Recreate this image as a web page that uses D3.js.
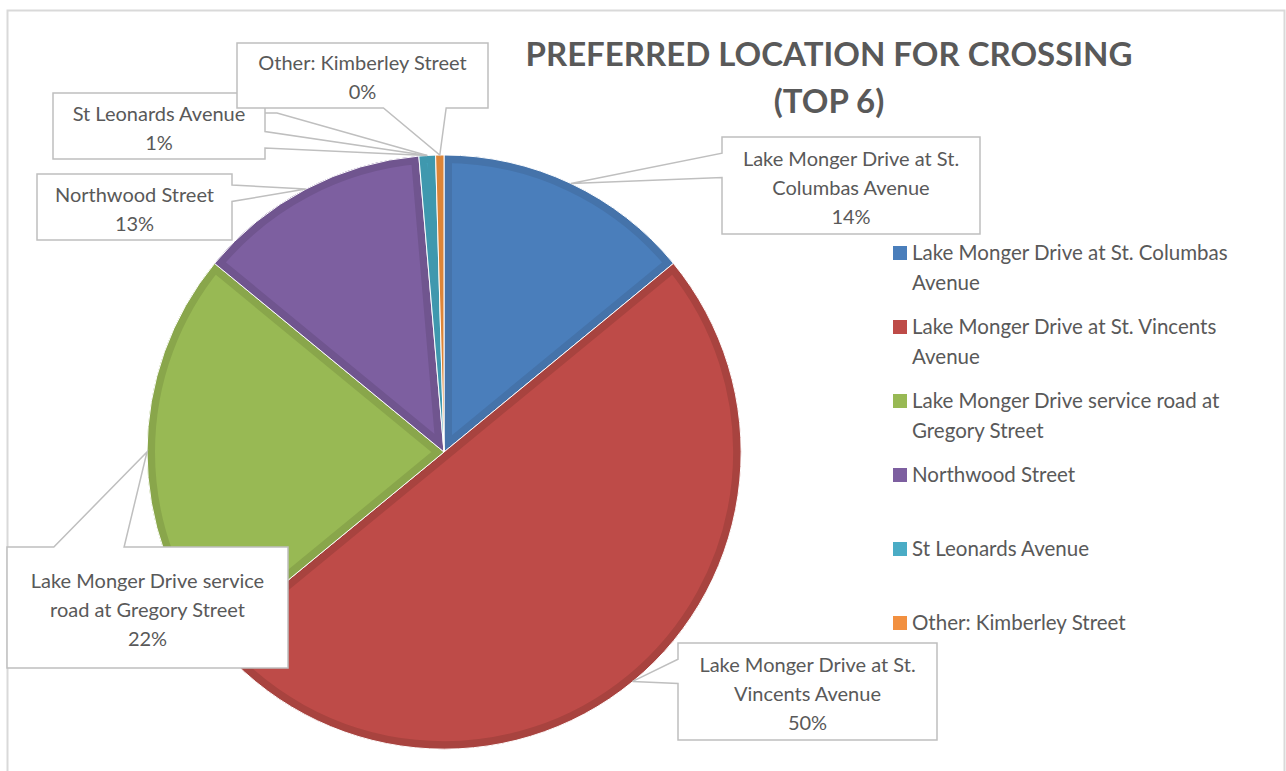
<!DOCTYPE html>
<html>
<head>
<meta charset="utf-8">
<script src="https://cdn.jsdelivr.net/npm/d3@7"></script>
<style>
  body { margin: 0; background: #fff; }
  text { font-family: Lato, "Open Sans", sans-serif; fill: #595959; }
</style>
</head>
<body>
<div id="chart"></div>
<script>
const width = 1286;
const height = 771;

// data
const categories = [
  "Lake Monger Drive at St. Columbas Avenue",
  "Lake Monger Drive at St. Vincents Avenue",
  "Lake Monger Drive service road at Gregory Street",
  "Northwood Street",
  "St Leonards Avenue",
  "Other: Kimberley Street",
];
const values = [14.05, 50.0, 21.9, 12.7, 0.9, 0.45];
const fillColors = ["#4a7ebb", "#be4b48", "#98b954", "#7d5fa0", "#4aacc5", "#f29040"];
const edgeColors = ["#4573aa", "#a8433f", "#89a64b", "#70558f", "#3f98ae", "#dc8538"];

// label text as wrapped in the picture
const labelLines = [
  ["Lake Monger Drive at St.", "Columbas Avenue"],
  ["Lake Monger Drive at St.", "Vincents Avenue"],
  ["Lake Monger Drive service", "road at Gregory Street"],
  ["Northwood Street"],
  ["St Leonards Avenue"],
  ["Other: Kimberley Street"],
];
const legendLines = [
  ["Lake Monger Drive at St. Columbas", "Avenue"],
  ["Lake Monger Drive at St. Vincents", "Avenue"],
  ["Lake Monger Drive service road at", "Gregory Street"],
  ["Northwood Street"],
  ["St Leonards Avenue"],
  ["Other: Kimberley Street"],
];
const titleLines = ["PREFERRED LOCATION FOR CROSSING", "(TOP 6)"];

// label box layout
const labelBoxes = [
  { x: 722, y: 137, w: 258, h: 97 },
  { x: 678, y: 643, w: 259, h: 97 },
  { x: 7, y: 547, w: 281, h: 121 },
  { x: 37, y: 174, w: 195, h: 66 },
  { x: 53, y: 93, w: 212, h: 66 },
  { x: 237, y: 43, w: 251, h: 65 },
];

const cx = 444, cy = 452, r = 297;

const svg = d3.select("#chart").append("svg")
  .attr("width", width)
  .attr("height", height);

svg.append("rect")
  .attr("x", 7.5).attr("y", 10.5)
  .attr("width", 1277).attr("height", 800)
  .attr("fill", "#fff")
  .attr("stroke", "#d9d9d9")
  .attr("stroke-width", 2);

const data = categories.map((c, i) => ({ name: c, value: values[i], i }));
const total = d3.sum(values);
const pct = d3.format(".0%");

const pie = d3.pie().sort(null).value((d) => d.value);
const arc = d3.arc().innerRadius(0).outerRadius(r);
const arcs = pie(data);

const pieG = svg.append("g").attr("transform", `translate(${cx},${cy})`);

const defs = svg.append("defs");
arcs.forEach((a, i) => {
  defs.append("clipPath").attr("id", "clip" + i)
    .append("path").attr("d", arc(a));
});

const slice = pieG.selectAll("g.slice").data(arcs).enter().append("g").attr("class", "slice");
slice.append("path")
  .attr("d", arc)
  .attr("fill", (d) => fillColors[d.data.i]);
// darker inner edge
slice.append("path")
  .attr("d", arc)
  .attr("fill", "none")
  .attr("stroke", (d) => edgeColors[d.data.i])
  .attr("stroke-width", 16)
  .attr("stroke-linejoin", "miter")
  .attr("clip-path", (d) => `url(#clip${d.data.i})`);
slice.append("path")
  .attr("d", arc)
  .attr("fill", "none")
  .attr("stroke", "#fff")
  .attr("stroke-width", 1);

// callout labels
function calloutPath(b, tip) {
  const bx = b.x + b.w / 2, by = b.y + b.h / 2;
  const dx = (tip[0] - bx) / b.w, dy = (tip[1] - by) / b.h;
  const x0 = b.x, x1 = b.x + b.w, y0 = b.y, y1 = b.y + b.h;
  let pts;
  if (Math.abs(dx) > Math.abs(dy)) {
    const f = dy > 0 ? [7, 10] : [2, 5];
    const ya = y0 + (b.h * f[0]) / 12, yb = y0 + (b.h * f[1]) / 12;
    if (dx < 0) pts = [[x0, y0], [x1, y0], [x1, y1], [x0, y1], [x0, yb], tip, [x0, ya]];
    else pts = [[x0, y0], [x1, y0], [x1, ya], tip, [x1, yb], [x1, y1], [x0, y1]];
  } else {
    const f = dx > 0 ? [7, 10] : [2, 5];
    const xa = x0 + (b.w * f[0]) / 12, xb = x0 + (b.w * f[1]) / 12;
    if (dy < 0) pts = [[x0, y0], [xa, y0], tip, [xb, y0], [x1, y0], [x1, y1], [x0, y1]];
    else pts = [[x0, y0], [x1, y0], [x1, y1], [xb, y1], tip, [xa, y1], [x0, y1]];
  }
  return "M" + pts.join("L") + "Z";
}

const lineH = 29;
const labelG = svg.append("g");
arcs.forEach((a, i) => {
  const b = labelBoxes[i];
  const mid = (a.startAngle + a.endAngle) / 2;
  const tip = [cx + r * Math.sin(mid), cy - r * Math.cos(mid)];
  const g = labelG.append("g");
  if (i === 4) {
    // short leader line behind the box
    g.append("path")
      .attr("d", `M${b.x + b.w},${b.y + 20}H${b.x + b.w + 12}L${tip[0]},${tip[1]}`)
      .attr("fill", "none")
      .attr("stroke", "#bfbfbf")
      .attr("stroke-width", 1.5);
  }
  g.append("path")
    .attr("d", calloutPath(b, tip))
    .attr("fill", "#fff")
    .attr("stroke", "#bfbfbf")
    .attr("stroke-width", 1.5);
  const lines = labelLines[i].concat([pct(a.data.value / total)]);
  const top = b.y + (b.h - lines.length * lineH) / 2;
  g.selectAll("text").data(lines).enter().append("text")
    .attr("x", b.x + b.w / 2)
    .attr("y", (d, k) => top + 23.5 + k * lineH)
    .attr("text-anchor", "middle")
    .attr("font-size", 20)
    .text((d) => d);
});

// title
svg.append("g").selectAll("text").data(titleLines).enter().append("text")
  .attr("x", 829)
  .attr("y", (d, k) => 66 + k * 47)
  .attr("text-anchor", "middle")
  .attr("font-size", 33)
  .attr("font-weight", 700)
  .text((d) => d);

// legend
const legend = svg.append("g").attr("transform", "translate(893,260)");
const item = legend.selectAll("g").data(data).enter().append("g")
  .attr("transform", (d, i) => `translate(0,${i * 74})`);
item.append("rect")
  .attr("x", 0).attr("y", -14)
  .attr("width", 14).attr("height", 14)
  .attr("fill", (d) => fillColors[d.i]);
item.each(function (d) {
  d3.select(this).selectAll("text").data(legendLines[d.i]).enter().append("text")
    .attr("x", 19)
    .attr("y", (t, k) => k * 29.5)
    .attr("font-size", 20.5)
    .text((t) => t);
});
</script>
</body>
</html>
